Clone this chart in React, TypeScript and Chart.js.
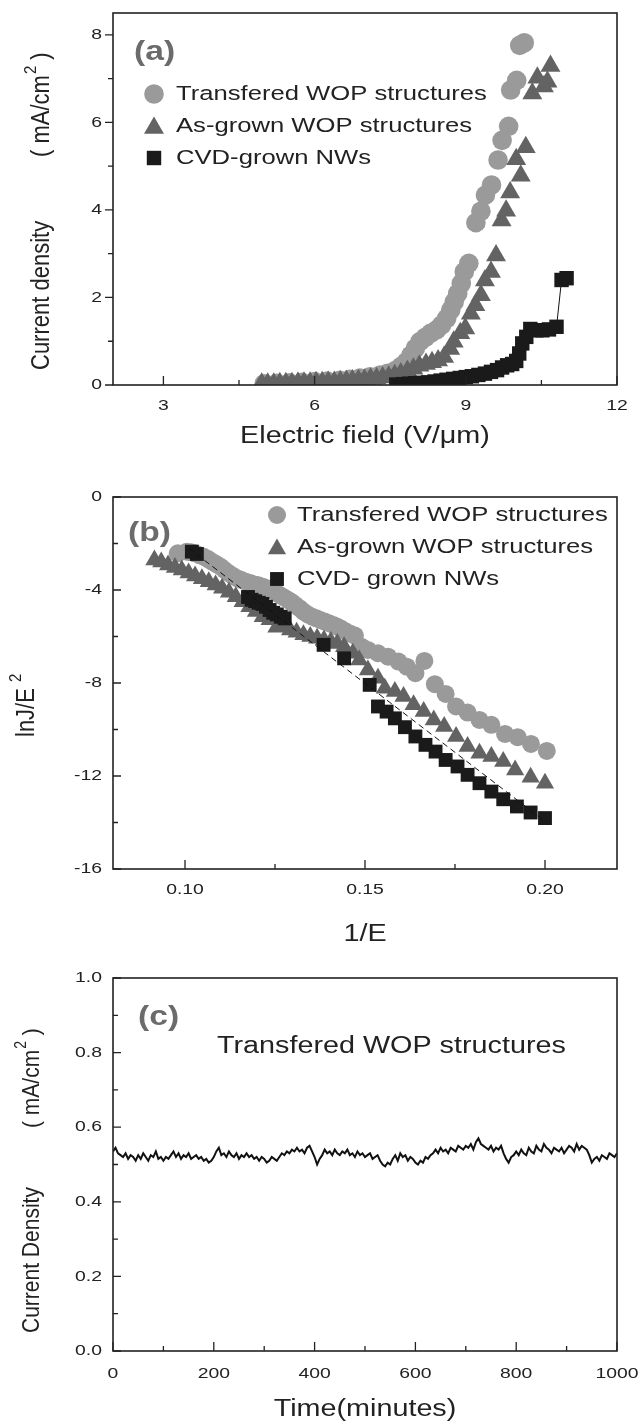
import React, { useEffect, useRef } from "react";
import { Chart, registerables } from "chart.js";

Chart.register(...registerables);

const FONT = "'Liberation Sans', Arial, Helvetica, sans-serif";
const SX = 1.25; // horizontal widening of the reference lettering
const W = 640;

// ---------------- Panel (a): J-E curves ----------------
const aLegend = ["Transfered WOP structures", "As-grown WOP structures", "CVD-grown NWs"];
const aTransX = [5.0, 5.25, 5.5, 5.75, 6.0, 6.25, 6.5, 6.7, 6.9, 7.1, 7.3, 7.45, 7.6, 7.71, 7.82, 7.91, 8.0, 8.09, 8.2, 8.3, 8.42, 8.52, 8.62, 8.7, 8.77, 8.84, 8.91, 8.97, 9.06, 9.2, 9.3, 9.39, 9.51, 9.64, 9.72, 9.85, 9.89, 10.01, 10.07, 10.16];
const aTransY = [0.03, 0.04, 0.05, 0.06, 0.08, 0.09, 0.11, 0.13, 0.16, 0.19, 0.23, 0.27, 0.33, 0.42, 0.53, 0.68, 0.84, 0.99, 1.09, 1.18, 1.26, 1.37, 1.52, 1.71, 1.9, 2.09, 2.32, 2.59, 2.78, 3.71, 3.97, 4.34, 4.57, 5.14, 5.59, 5.91, 6.74, 6.96, 7.76, 7.82];
const aAsX = [4.95, 5.07, 5.19, 5.31, 5.43, 5.55, 5.67, 5.79, 5.91, 6.03, 6.15, 6.27, 6.39, 6.51, 6.63, 6.75, 6.87, 6.99, 7.11, 7.23, 7.35, 7.47, 7.59, 7.71, 7.84, 7.96, 8.08, 8.21, 8.33, 8.45, 8.57, 8.69, 8.76, 8.89, 8.99, 9.1, 9.19, 9.3, 9.38, 9.5, 9.6, 9.71, 9.8, 9.88, 10.0, 10.09, 10.19, 10.32, 10.42, 10.55, 10.62, 10.68];
const aAsY = [0.03, 0.03, 0.03, 0.04, 0.04, 0.04, 0.05, 0.05, 0.05, 0.06, 0.06, 0.07, 0.07, 0.08, 0.09, 0.1, 0.11, 0.12, 0.14, 0.15, 0.17, 0.19, 0.22, 0.26, 0.32, 0.37, 0.44, 0.48, 0.52, 0.56, 0.64, 0.82, 0.99, 1.18, 1.29, 1.63, 1.82, 2.05, 2.39, 2.58, 2.96, 3.76, 3.98, 4.4, 5.16, 4.78, 5.43, 6.66, 7.02, 6.82, 6.93, 7.29];
const aCvdX = [7.62, 7.75, 7.88, 8.0, 8.12, 8.25, 8.38, 8.5, 8.62, 8.75, 8.88, 9.0, 9.12, 9.25, 9.38, 9.5, 9.62, 9.72, 9.82, 9.92, 10.0, 10.06, 10.12, 10.2, 10.28, 10.4, 10.52, 10.65, 10.8, 10.9, 11.0];
const aCvdY = [0.01, 0.02, 0.03, 0.04, 0.05, 0.06, 0.08, 0.1, 0.12, 0.14, 0.16, 0.18, 0.2, 0.23, 0.26, 0.3, 0.34, 0.4, 0.45, 0.48, 0.55, 0.72, 0.95, 1.1, 1.28, 1.25, 1.25, 1.27, 1.33, 2.4, 2.44];
const aXTicks = [3, 6, 9, 12];
const aXMinor = [4.5, 7.5, 10.5];
const aYTicks = [0, 2, 4, 6, 8];
const aYMinor = [1, 3, 5, 7];

// ---------------- Panel (b): F-N plot ----------------
const bLegend = ["Transfered WOP structures", "As-grown WOP structures", "CVD- grown NWs"];
const bTransX = [0.098, 0.1005, 0.1017, 0.1028, 0.104, 0.1052, 0.1064, 0.1075, 0.1087, 0.1099, 0.111, 0.1122, 0.1134, 0.1146, 0.1157, 0.1169, 0.1181, 0.1193, 0.1204, 0.1216, 0.1228, 0.124, 0.1252, 0.1263, 0.1275, 0.1287, 0.1297, 0.1306, 0.1318, 0.1329, 0.1341, 0.1353, 0.1365, 0.1376, 0.1388, 0.14, 0.1412, 0.1423, 0.1435, 0.1447, 0.1459, 0.1472, 0.149, 0.1508, 0.1536, 0.1564, 0.1593, 0.1616, 0.164, 0.1665, 0.1694, 0.1724, 0.1753, 0.1785, 0.1818, 0.1851, 0.1889, 0.1924, 0.1961, 0.2005];
const bTransY = [-2.42, -2.35, -2.38, -2.42, -2.5, -2.57, -2.67, -2.78, -2.89, -3.0, -3.14, -3.28, -3.4, -3.5, -3.57, -3.64, -3.7, -3.76, -3.8, -3.86, -3.92, -4.0, -4.1, -4.21, -4.32, -4.43, -4.53, -4.64, -4.78, -4.93, -5.05, -5.15, -5.22, -5.29, -5.36, -5.43, -5.5, -5.58, -5.68, -5.79, -5.88, -5.96, -6.44, -6.58, -6.72, -6.87, -7.08, -7.3, -7.58, -7.05, -8.05, -8.47, -9.01, -9.27, -9.59, -9.8, -10.19, -10.33, -10.62, -10.92];
const bAsX = [0.0915, 0.0934, 0.0953, 0.0972, 0.0991, 0.101, 0.1028, 0.1047, 0.1066, 0.1085, 0.1103, 0.1122, 0.1141, 0.116, 0.1179, 0.1197, 0.1216, 0.1235, 0.1254, 0.1273, 0.1292, 0.131, 0.1329, 0.1348, 0.1367, 0.1386, 0.1405, 0.1423, 0.1442, 0.1466, 0.1484, 0.1508, 0.1536, 0.1555, 0.1583, 0.1607, 0.1635, 0.1663, 0.1691, 0.172, 0.1753, 0.1785, 0.1818, 0.1851, 0.1884, 0.1917, 0.196, 0.2];
const bAsY = [-2.71, -2.8, -2.93, -3.03, -3.14, -3.27, -3.4, -3.52, -3.64, -3.78, -3.93, -4.1, -4.29, -4.5, -4.72, -4.93, -5.15, -5.28, -5.6, -5.55, -5.72, -5.82, -5.93, -6.0, -6.08, -6.15, -6.22, -6.3, -6.44, -6.72, -7.01, -7.44, -7.8, -8.23, -8.37, -8.58, -8.94, -9.23, -9.59, -9.87, -10.3, -10.73, -11.02, -11.16, -11.38, -11.74, -12.05, -12.31];
const bCvdX = [0.1019, 0.1033, 0.1175, 0.1185, 0.1195, 0.1205, 0.1215, 0.1225, 0.1235, 0.1245, 0.1255, 0.1266, 0.1277, 0.1385, 0.1442, 0.1513, 0.1536, 0.156, 0.1583, 0.1611, 0.164, 0.1668, 0.1696, 0.1724, 0.1757, 0.1785, 0.1818, 0.1851, 0.1884, 0.1922, 0.196, 0.2];
const bCvdY = [-2.35, -2.45, -4.3, -4.42, -4.48, -4.55, -4.6, -4.72, -4.86, -4.98, -5.05, -5.15, -5.22, -6.36, -6.94, -8.08, -9.01, -9.23, -9.52, -9.9, -10.3, -10.66, -10.95, -11.31, -11.59, -11.95, -12.31, -12.67, -13.0, -13.31, -13.57, -13.81];
const bFitX = [0.101, 0.2];
const bFitY = [-2.2, -13.95];
const bXTicks = [0.1, 0.15, 0.2];
const bXMinor = [0.125, 0.175];
const bYTicks = [0, -4, -8, -12, -16];
const bYMinor = [-2, -6, -10, -14];

// ---------------- Panel (c): stability ----------------
const cStepMinutes = 5;
const cCurrent = [
  0.535, 0.545, 0.53, 0.525, 0.52, 0.53, 0.515, 0.525, 0.52, 0.51, 0.525, 0.515, 0.53, 0.52, 0.51, 0.525, 0.52, 0.535, 0.515, 0.52,
  0.51, 0.52, 0.515, 0.525, 0.535, 0.52, 0.53, 0.515, 0.525, 0.52, 0.53, 0.515, 0.52, 0.525, 0.515, 0.52, 0.51, 0.515, 0.505, 0.51,
  0.52, 0.535, 0.545, 0.525, 0.53, 0.52, 0.535, 0.525, 0.52, 0.53, 0.515, 0.525, 0.52, 0.53, 0.52, 0.525, 0.515, 0.52, 0.51, 0.52,
  0.515, 0.505, 0.51, 0.52, 0.515, 0.51, 0.52, 0.53, 0.525, 0.535, 0.53, 0.54, 0.535, 0.545, 0.535, 0.54, 0.53, 0.545, 0.55, 0.535,
  0.52, 0.5, 0.515, 0.525, 0.54, 0.53, 0.535, 0.525, 0.54, 0.53, 0.525, 0.535, 0.53, 0.54, 0.525, 0.53, 0.52, 0.535, 0.525, 0.53,
  0.52, 0.525, 0.53, 0.515, 0.52, 0.525, 0.51, 0.5, 0.495, 0.505, 0.5, 0.515, 0.525, 0.51, 0.53, 0.52, 0.525, 0.51, 0.52, 0.515,
  0.505, 0.5, 0.51, 0.505, 0.52, 0.515, 0.525, 0.53, 0.54, 0.53, 0.545, 0.535, 0.54, 0.53, 0.545, 0.54, 0.535, 0.55, 0.545, 0.54,
  0.55, 0.545, 0.555, 0.54, 0.56, 0.57, 0.555, 0.55, 0.545, 0.54, 0.55, 0.535, 0.545, 0.54, 0.55, 0.53, 0.515, 0.505, 0.52, 0.525,
  0.535, 0.525, 0.54, 0.53, 0.525, 0.545, 0.535, 0.53, 0.55, 0.54, 0.535, 0.555, 0.545, 0.54, 0.53, 0.545, 0.54, 0.535, 0.545, 0.53,
  0.54, 0.55, 0.545, 0.535, 0.555, 0.54, 0.55, 0.545, 0.54, 0.525, 0.505, 0.515, 0.52, 0.51, 0.525, 0.52, 0.515, 0.53, 0.525, 0.52,
  0.53,
];
const cXTicks = [0, 200, 400, 600, 800, 1000];
const cXMinor = [100, 300, 500, 700, 900];
const cYTicks = [0, 0.2, 0.4, 0.6, 0.8, 1.0];
const cYMinor = [0.1, 0.3, 0.5, 0.7, 0.9];

// ---------------- colours ----------------
const C_TRANS = "#9a9a9a";
const C_AS = "#636363";
const C_CVD = "#1a1a1a";
const INK = "#222222";

const pts = (xs: number[], ys: number[]) => xs.map((x, i) => ({ x, y: ys[i] }));

function drawText(ctx: CanvasRenderingContext2D, text: string, x: number, y: number, size: number, opts: any = {}) {
  const sx = opts.sx ?? SX;
  ctx.save();
  ctx.font = `${opts.bold ? "bold " : ""}${size}px ${FONT}`;
  ctx.fillStyle = opts.color ?? INK;
  ctx.textBaseline = "middle";
  ctx.textAlign = "left";
  const w = ctx.measureText(text).width * sx;
  const align = opts.align ?? "left";
  const left = align === "left" ? x : align === "center" ? x - w / 2 : x - w;
  ctx.translate(left, y);
  ctx.scale(sx, 1);
  ctx.fillText(text, 0, 0);
  ctx.restore();
}

function drawRotated(ctx: CanvasRenderingContext2D, x: number, yStart: number, segs: any[], size: number) {
  ctx.save();
  ctx.translate(x, yStart);
  ctx.rotate(-Math.PI / 2);
  ctx.scale(1, 1.15);
  ctx.fillStyle = INK;
  ctx.textBaseline = "middle";
  ctx.textAlign = "left";
  let pos = 0;
  for (const s of segs) {
    if (s.at !== undefined) pos = s.at;
    const sz = s.sup ? Math.round(size * 0.66) : size;
    ctx.font = `${sz}px ${FONT}`;
    pos += s.gap ?? 0;
    ctx.fillText(s.t, pos, s.sup ? -size * 0.42 : 0);
    pos += ctx.measureText(s.t).width;
  }
  ctx.restore();
}

function marker(ctx: CanvasRenderingContext2D, style: string, x: number, y: number, r: number, color: string) {
  ctx.save();
  ctx.fillStyle = color;
  ctx.beginPath();
  if (style === "circle") ctx.arc(x, y, r, 0, Math.PI * 2);
  else if (style === "triangle") {
    ctx.moveTo(x, y - r);
    ctx.lineTo(x + 0.866 * r, y + 0.5 * r);
    ctx.lineTo(x - 0.866 * r, y + 0.5 * r);
    ctx.closePath();
  } else {
    const h = r * Math.SQRT1_2;
    ctx.rect(x - h, y - h, 2 * h, 2 * h);
  }
  ctx.fill();
  ctx.restore();
}

function framePlugin(cfg: any) {
  return {
    id: "frame",
    afterDatasetsDraw(chart: any) {
      const { ctx, chartArea: a, scales } = chart;
      const xs = scales.x;
      const ys = scales.y;
      ctx.save();
      ctx.strokeStyle = INK;
      ctx.lineWidth = 1.3;
      const yDir = cfg.yOut ? -1 : 1;
      ctx.beginPath();
      for (const v of cfg.xMajor) {
        const p = xs.getPixelForValue(v);
        ctx.moveTo(p, a.bottom);
        ctx.lineTo(p, a.bottom - 9);
      }
      for (const v of cfg.xMinor) {
        const p = xs.getPixelForValue(v);
        ctx.moveTo(p, a.bottom);
        ctx.lineTo(p, a.bottom - 5);
      }
      for (const v of cfg.yMajor) {
        const p = ys.getPixelForValue(v);
        ctx.moveTo(a.left, p);
        ctx.lineTo(a.left + yDir * 8, p);
      }
      for (const v of cfg.yMinor) {
        const p = ys.getPixelForValue(v);
        ctx.moveTo(a.left, p);
        ctx.lineTo(a.left + yDir * 5, p);
      }
      ctx.stroke();
      ctx.lineWidth = 1.6;
      ctx.strokeRect(a.left, a.top, a.right - a.left, a.bottom - a.top);
      ctx.restore();

      for (const v of cfg.xMajor) {
        drawText(ctx, cfg.xFmt(v), xs.getPixelForValue(v), a.bottom + cfg.xLabelGap, 15.5, { align: "center" });
      }
      for (const v of cfg.yMajor) {
        drawText(ctx, cfg.yFmt(v), a.left - 11, ys.getPixelForValue(v), 15.5, { align: "right" });
      }
      cfg.decorate(ctx, a);
    },
  };
}

function Panel({ cfg }: { cfg: any }) {
  const ref = useRef<HTMLCanvasElement>(null);
  useEffect(() => {
    const canvas = ref.current!;
    const chart = new Chart(canvas, {
      type: "scatter",
      data: { datasets: cfg.datasets },
      options: {
        animation: false,
        responsive: false,
        devicePixelRatio: 1,
        events: [],
        layout: { padding: { left: 0, top: cfg.area.top, right: W - cfg.area.right, bottom: 0 } },
        plugins: { legend: { display: false }, tooltip: { enabled: false }, title: { display: false } },
        scales: {
          x: {
            type: "linear",
            position: "bottom",
            min: cfg.xMin,
            max: cfg.xMax,
            grid: { display: false, drawTicks: false },
            border: { display: false },
            ticks: { display: false },
            afterFit: (s: any) => {
              s.height = cfg.height - cfg.area.bottom;
            },
          },
          y: {
            type: "linear",
            position: "left",
            min: cfg.yMin,
            max: cfg.yMax,
            grid: { display: false, drawTicks: false },
            border: { display: false },
            ticks: { display: false },
            afterFit: (s: any) => {
              s.width = cfg.area.left;
            },
          },
        },
      } as any,
      plugins: [framePlugin(cfg)],
    });
    return () => chart.destroy();
  }, []);
  return (
    <canvas
      ref={ref}
      width={W}
      height={cfg.height}
      style={{ position: "absolute", left: 0, top: cfg.top, width: W, height: cfg.height, display: "block" }}
    />
  );
}

const scatterSet = (data: any[], style: string, r: number, color: string, order: number, extra: any = {}) => ({
  data,
  pointStyle: style,
  pointRadius: r,
  pointBackgroundColor: color,
  pointBorderWidth: 0,
  borderWidth: 0,
  showLine: false,
  order,
  ...extra,
});

const A_R = { circle: 9.8, triangle: 11.5, rect: 10.2 };
const B_R = { circle: 9.0, triangle: 10.5, rect: 9.8 };

const panelA = {
  top: 0,
  height: 460,
  area: { left: 113, top: 13, right: 617, bottom: 385 },
  xMin: 2, xMax: 12, yMin: 0, yMax: 8.5,
  xMajor: aXTicks, xMinor: aXMinor, yMajor: aYTicks, yMinor: aYMinor,
  yOut: true,
  xLabelGap: 21,
  xFmt: (v: number) => String(v),
  yFmt: (v: number) => String(v),
  datasets: [
    scatterSet(pts(aTransX, aTransY), "circle", A_R.circle, C_TRANS, 2),
    scatterSet(pts(aAsX, aAsY), "triangle", A_R.triangle, C_AS, 1),
    scatterSet(pts(aCvdX, aCvdY), "rect", A_R.rect, C_CVD, 0, { showLine: true, borderWidth: 1, borderColor: "#111" }),
  ],
  decorate: (ctx: CanvasRenderingContext2D) => {
    drawText(ctx, "(a)", 134, 52, 28, { bold: true, color: "#6b6b6b", sx: 1.2 });
    const rows = [94, 126, 158];
    marker(ctx, "circle", 154, rows[0], A_R.circle, C_TRANS);
    marker(ctx, "triangle", 154, rows[1] + 2, A_R.triangle, C_AS);
    marker(ctx, "rect", 154, rows[2], A_R.rect, C_CVD);
    aLegend.forEach((t, i) => drawText(ctx, t, 176, rows[i], 20.5));
    drawText(ctx, "Electric field (V/\u03bcm)", 365, 437, 23, { align: "center" });
    drawRotated(ctx, 42, 370, [
      { t: "Current density", at: 0 },
      { t: "( mA/cm", at: 213 },
      { t: "2", sup: true, gap: 1 },
      { t: " )" },
    ], 22);
  },
};

const panelB = {
  top: 460,
  height: 490,
  area: { left: 113, top: 37, right: 617, bottom: 409 },
  xMin: 0.08, xMax: 0.22, yMin: -16, yMax: 0,
  xMajor: bXTicks, xMinor: bXMinor, yMajor: bYTicks, yMinor: bYMinor,
  yOut: false,
  xLabelGap: 21,
  xFmt: (v: number) => v.toFixed(2),
  yFmt: (v: number) => String(v),
  datasets: [
    {
      data: pts(bFitX, bFitY),
      showLine: true,
      borderColor: "#111",
      borderWidth: 1,
      borderDash: [6, 4],
      pointRadius: 0,
      order: -1,
    },
    scatterSet(pts(bTransX, bTransY), "circle", B_R.circle, C_TRANS, 2),
    scatterSet(pts(bAsX, bAsY), "triangle", B_R.triangle, C_AS, 1),
    scatterSet(pts(bCvdX, bCvdY), "rect", B_R.rect, C_CVD, 0),
  ],
  decorate: (ctx: CanvasRenderingContext2D) => {
    drawText(ctx, "(b)", 128, 73, 28, { bold: true, color: "#6b6b6b", sx: 1.2 });
    const rows = [55, 87, 119];
    marker(ctx, "circle", 277, rows[0], B_R.circle, C_TRANS);
    marker(ctx, "triangle", 277, rows[1] + 2, B_R.triangle, C_AS);
    marker(ctx, "rect", 277, rows[2], B_R.rect, C_CVD);
    bLegend.forEach((t, i) => drawText(ctx, t, 297, rows[i], 20.5));
    drawText(ctx, "1/E", 365, 475, 23, { align: "center" });
    drawRotated(ctx, 27, 277, [
      { t: "lnJ/E", at: 0 },
      { t: "2", sup: true, gap: 6 },
    ], 22);
  },
};

const panelC = {
  top: 950,
  height: 474,
  area: { left: 113, top: 28, right: 617, bottom: 401 },
  xMin: 0, xMax: 1000, yMin: 0, yMax: 1.0,
  xMajor: cXTicks, xMinor: cXMinor, yMajor: cYTicks, yMinor: cYMinor,
  yOut: false,
  xLabelGap: 23,
  xFmt: (v: number) => String(v),
  yFmt: (v: number) => v.toFixed(1),
  datasets: [
    {
      type: "line",
      data: cCurrent.map((y, i) => ({ x: i * cStepMinutes, y })),
      borderColor: "#111",
      borderWidth: 2,
      pointRadius: 0,
      tension: 0,
      fill: false,
    },
  ],
  decorate: (ctx: CanvasRenderingContext2D) => {
    drawText(ctx, "(c)", 138, 67, 28, { bold: true, color: "#6b6b6b", sx: 1.2 });
    drawText(ctx, "Transfered WOP structures", 217, 97, 23);
    drawText(ctx, "Time(minutes)", 365, 460, 23, { align: "center" });
    drawRotated(ctx, 32, 383, [
      { t: "Current Density", at: 0 },
      { t: "( mA/cm", at: 205 },
      { t: "2", sup: true, gap: 1 },
      { t: " )" },
    ], 21);
  },
};

export default function App() {
  return (
    <div style={{ position: "absolute", left: 0, top: 0, width: W, height: 1424, background: "#fff" }}>
      <Panel cfg={panelA} />
      <Panel cfg={panelB} />
      <Panel cfg={panelC} />
    </div>
  );
}
